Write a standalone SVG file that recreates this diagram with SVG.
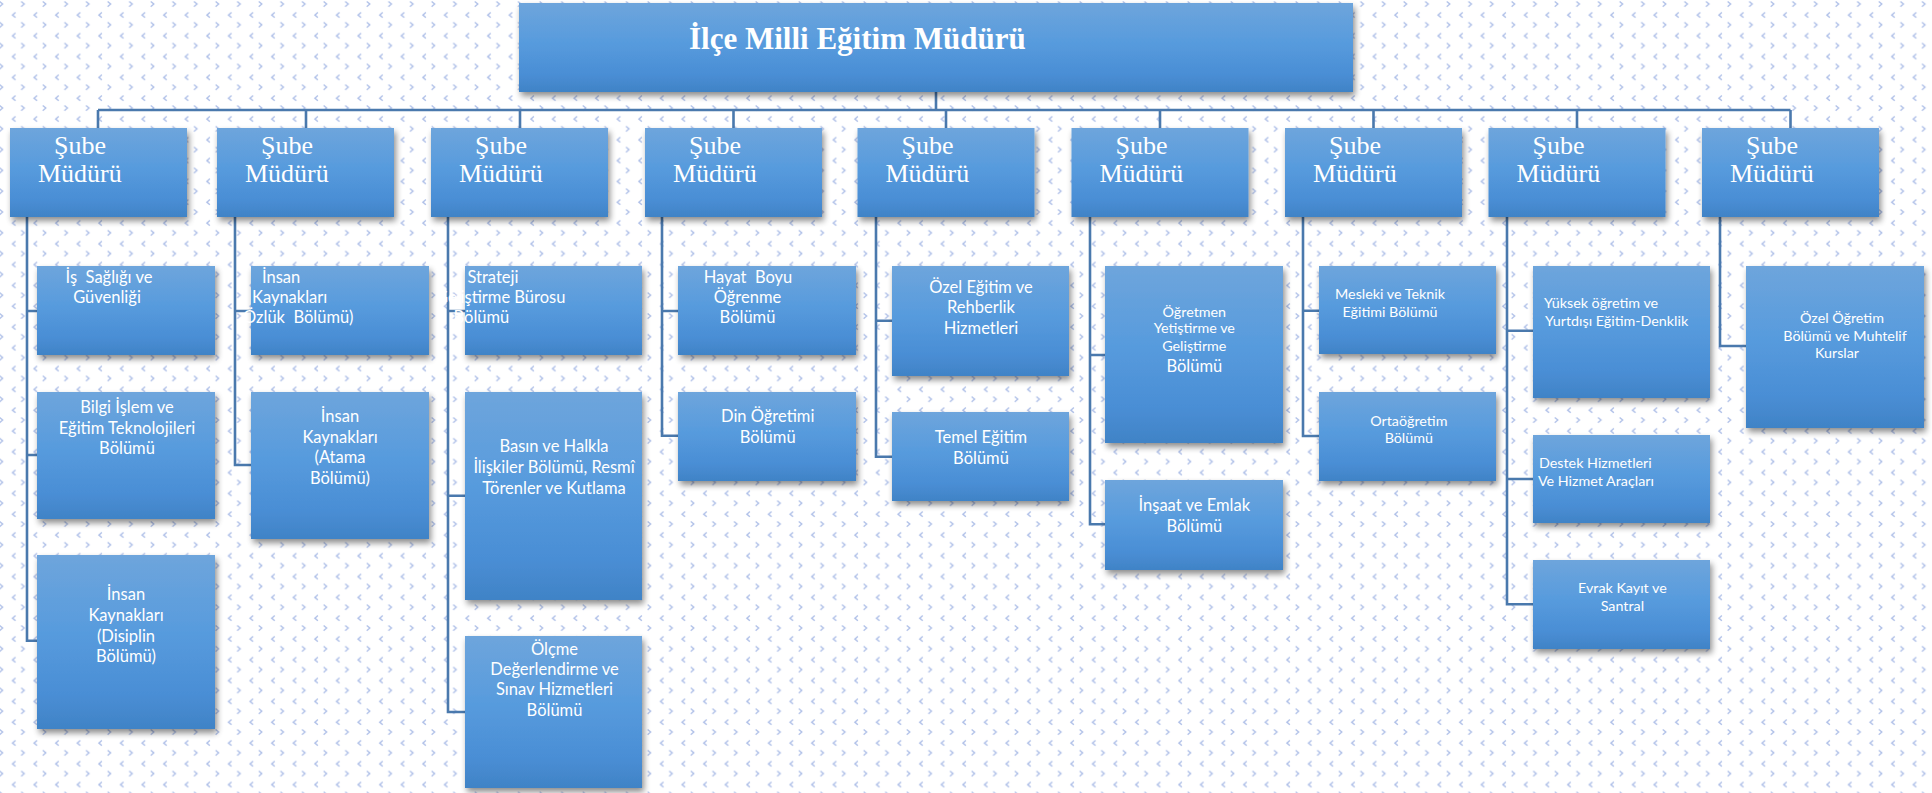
<svg xmlns="http://www.w3.org/2000/svg" width="1932" height="793" viewBox="0 0 1932 793">
<defs>
<pattern id="bg" patternUnits="userSpaceOnUse" x="-5" y="0" width="21.6" height="20.8">
<path d="M4.6,1.4 L7.6,4 L4.6,6.6 M20.5,12.4 L17.5,15 L20.5,17.6" fill="none" stroke="#afc0e8" stroke-width="1.4"/>
</pattern>
<linearGradient id="g" x1="0" y1="0" x2="0" y2="1">
<stop offset="0" stop-color="#6ea5dc"/>
<stop offset="0.45" stop-color="#579bdd"/>
<stop offset="0.8" stop-color="#4a8ed5"/>
<stop offset="1" stop-color="#4083c6"/>
</linearGradient>
<filter id="sh" x="-10%" y="-10%" width="125%" height="130%">
<feGaussianBlur in="SourceAlpha" stdDeviation="3"/>
<feOffset dx="2" dy="4" result="b"/>
<feComponentTransfer><feFuncA type="linear" slope="0.45"/></feComponentTransfer>
<feMerge><feMergeNode/><feMergeNode in="SourceGraphic"/></feMerge>
</filter>
</defs>
<style>
.box{fill:url(#g);filter:url(#sh)}
.ln{fill:none;stroke:#4a79ad;stroke-width:2.6}
.tt{font-family:"Liberation Serif","Times New Roman",serif;font-weight:bold;font-size:31px;fill:#fff}
.sb{font-family:"Liberation Serif","Times New Roman",serif;font-size:26px;fill:#fff}
.c{font-family:Lato,"Open Sans",sans-serif;font-size:16.5px;fill:#fff}
.s{font-family:Lato,"Open Sans",sans-serif;font-size:14.3px;fill:#fff}
.m{text-anchor:middle}
</style>
<rect width="1932" height="793" fill="#fff"/>
<rect width="1932" height="793" fill="url(#bg)"/>

<g id="connectors">
<path class="ln" d="M936,92 V110 M98,110 H1790.5 M98,110 V128 M306,110 V128 M520,110 V128 M733.5,110 V128 M946,110 V128 M1160,110 V128 M1373.5,110 V128 M1577,110 V128 M1790.5,110 V128"/>
<path class="ln" d="M27,217 V640.7 H37 M27,311 H37 M27,455 H37"/>
<path class="ln" d="M235,217 V465 H251 M235,311 H251"/>
<path class="ln" d="M448,217 V712 H465 M448,311 H465 M448,495.7 H465"/>
<path class="ln" d="M662,217 V435.7 H678 M662,311 H678"/>
<path class="ln" d="M876,217 V456.7 H892 M876,320.7 H892"/>
<path class="ln" d="M1090,217 V524.3 H1105 M1090,355 H1105"/>
<path class="ln" d="M1303,217 V436 H1319 M1303,310.7 H1319"/>
<path class="ln" d="M1507,217 V604.3 H1533 M1507,330.7 H1533 M1507,479 H1533"/>
<path class="ln" d="M1720,217 V346 H1746"/>
</g>

<g id="mudur">
<rect class="box" x="519" y="3" width="834" height="89"/>
<text class="tt" x="689" y="49">İlçe Milli Eğitim Müdürü</text>
</g>

<g id="sube1"><rect class="box" x="10" y="128" width="177" height="89"/><text class="sb" x="54" y="154">Şube</text><text class="sb" x="38" y="182">Müdürü</text></g>
<g id="sube2"><rect class="box" x="217" y="128" width="177" height="89"/><text class="sb" x="261" y="154">Şube</text><text class="sb" x="245" y="182">Müdürü</text></g>
<g id="sube3"><rect class="box" x="431" y="128" width="177" height="89"/><text class="sb" x="475" y="154">Şube</text><text class="sb" x="459" y="182">Müdürü</text></g>
<g id="sube4"><rect class="box" x="645" y="128" width="177" height="89"/><text class="sb" x="689" y="154">Şube</text><text class="sb" x="673" y="182">Müdürü</text></g>
<g id="sube5"><rect class="box" x="857.5" y="128" width="177" height="89"/><text class="sb" x="901.5" y="154">Şube</text><text class="sb" x="885.5" y="182">Müdürü</text></g>
<g id="sube6"><rect class="box" x="1071.5" y="128" width="177" height="89"/><text class="sb" x="1115.5" y="154">Şube</text><text class="sb" x="1099.5" y="182">Müdürü</text></g>
<g id="sube7"><rect class="box" x="1285" y="128" width="177" height="89"/><text class="sb" x="1329" y="154">Şube</text><text class="sb" x="1313" y="182">Müdürü</text></g>
<g id="sube8"><rect class="box" x="1488.5" y="128" width="177" height="89"/><text class="sb" x="1532.5" y="154">Şube</text><text class="sb" x="1516.5" y="182">Müdürü</text></g>
<g id="sube9"><rect class="box" x="1702" y="128" width="177" height="89"/><text class="sb" x="1746" y="154">Şube</text><text class="sb" x="1730" y="182">Müdürü</text></g>

<g id="is-sagligi"><rect class="box" x="37" y="266" width="178" height="89"/><text class="c m" xml:space="preserve"><tspan x="109" y="283">İş  Sağlığı ve</tspan><tspan x="107" y="303.3">Güvenliği</tspan></text></g>
<g id="bilgi-islem"><rect class="box" x="37" y="392" width="178" height="127"/><text class="c m"><tspan x="127" y="412.7">Bilgi İşlem ve</tspan><tspan x="127" y="434">Eğitim Teknolojileri</tspan><tspan x="127" y="454">Bölümü</tspan></text></g>
<g id="ik-disiplin"><rect class="box" x="37" y="555" width="178" height="174"/><text class="c m"><tspan x="126" y="600">İnsan</tspan><tspan x="126" y="621">Kaynakları</tspan><tspan x="126" y="641.7">(Disiplin</tspan><tspan x="126" y="661.7">Bölümü)</tspan></text></g>

<g id="ik-ozluk"><rect class="box" x="251" y="266" width="178" height="89"/><text class="c" xml:space="preserve"><tspan x="262" y="283.3">İnsan</tspan><tspan x="252" y="303.3">Kaynakları</tspan><tspan x="243" y="323.3">Özlük  Bölümü)</tspan></text></g>
<g id="ik-atama"><rect class="box" x="251" y="392" width="178" height="147"/><text class="c m"><tspan x="340" y="422.3">İnsan</tspan><tspan x="340" y="443.3">Kaynakları</tspan><tspan x="340" y="463.3">(Atama</tspan><tspan x="340" y="484.3">Bölümü)</tspan></text></g>

<g id="strateji"><rect class="box" x="465" y="266" width="177" height="89"/><text class="c"><tspan x="467.5" y="283.3">Strateji</tspan><tspan x="436" y="303.3">Geliştirme Bürosu</tspan><tspan x="453.5" y="323.3">Bölümü</tspan></text></g>
<g id="basin"><rect class="box" x="465" y="392" width="177" height="208"/><text class="c m"><tspan x="554" y="452.3">Basın ve Halkla</tspan><tspan x="554" y="473.3">İlişkiler Bölümü, Resmî</tspan><tspan x="554" y="494">Törenler ve Kutlama</tspan></text></g>
<g id="olcme"><rect class="box" x="465" y="636" width="177" height="152"/><text class="c m"><tspan x="554.5" y="655">Ölçme</tspan><tspan x="554.5" y="675">Değerlendirme ve</tspan><tspan x="554.5" y="695">Sınav Hizmetleri</tspan><tspan x="554.5" y="716">Bölümü</tspan></text></g>

<g id="hayat-boyu"><rect class="box" x="678" y="266" width="178" height="89"/><text class="c m" xml:space="preserve"><tspan x="748" y="283.3">Hayat  Boyu</tspan><tspan x="747.5" y="303.3">Öğrenme</tspan><tspan x="747.5" y="323.3">Bölümü</tspan></text></g>
<g id="din-ogretimi"><rect class="box" x="678" y="392" width="178" height="89"/><text class="c m"><tspan x="767.7" y="422.3">Din Öğretimi</tspan><tspan x="767.7" y="443.3">Bölümü</tspan></text></g>

<g id="ozel-egitim"><rect class="box" x="892" y="266" width="177" height="110"/><text class="c m"><tspan x="981" y="292.7">Özel Eğitim ve</tspan><tspan x="981" y="313.3">Rehberlik</tspan><tspan x="981" y="334">Hizmetleri</tspan></text></g>
<g id="temel-egitim"><rect class="box" x="892" y="412" width="177" height="89"/><text class="c m"><tspan x="981" y="443.3">Temel Eğitim</tspan><tspan x="981" y="464.3">Bölümü</tspan></text></g>

<g id="ogretmen"><rect class="box" x="1105" y="266" width="178" height="177"/><text class="s m"><tspan x="1194.3" y="316.7">Öğretmen</tspan><tspan x="1194.3" y="333.3">Yetiştirme ve</tspan><tspan x="1194.3" y="351">Geliştirme</tspan></text><text class="c m" x="1194.3" y="371.7">Bölümü</text></g>
<g id="insaat"><rect class="box" x="1105" y="480" width="178" height="90"/><text class="c m"><tspan x="1194.3" y="511">İnşaat ve Emlak</tspan><tspan x="1194.3" y="531.7">Bölümü</tspan></text></g>

<g id="mesleki"><rect class="box" x="1319" y="266" width="177" height="88"/><text class="s m"><tspan x="1390" y="299.3">Mesleki ve Teknik</tspan><tspan x="1390" y="317.3">Eğitimi Bölümü</tspan></text></g>
<g id="ortaogretim"><rect class="box" x="1319" y="392" width="177" height="89"/><text class="s m"><tspan x="1408.8" y="425.7">Ortaöğretim</tspan><tspan x="1408.8" y="443.3">Bölümü</tspan></text></g>

<g id="yuksek"><rect class="box" x="1533" y="266" width="177" height="132"/><text class="s"><tspan x="1544" y="308.3">Yüksek öğretim ve</tspan><tspan x="1545" y="326">Yurtdışı Eğitim-Denklik</tspan></text></g>
<g id="destek"><rect class="box" x="1533" y="435" width="177" height="88"/><text class="s"><tspan x="1539" y="468.3">Destek Hizmetleri</tspan><tspan x="1538" y="486">Ve Hizmet Araçları</tspan></text></g>
<g id="evrak"><rect class="box" x="1533" y="560" width="177" height="89"/><text class="s m"><tspan x="1622.4" y="593.3">Evrak Kayıt ve</tspan><tspan x="1622.4" y="611">Santral</tspan></text></g>

<g id="ozel-ogretim"><rect class="box" x="1746" y="266" width="178" height="162"/><text class="s m"><tspan x="1842" y="323.3">Özel Öğretim</tspan><tspan x="1845" y="340.7">Bölümü ve Muhtelif</tspan><tspan x="1837" y="358.3">Kurslar</tspan></text></g>
</svg>
